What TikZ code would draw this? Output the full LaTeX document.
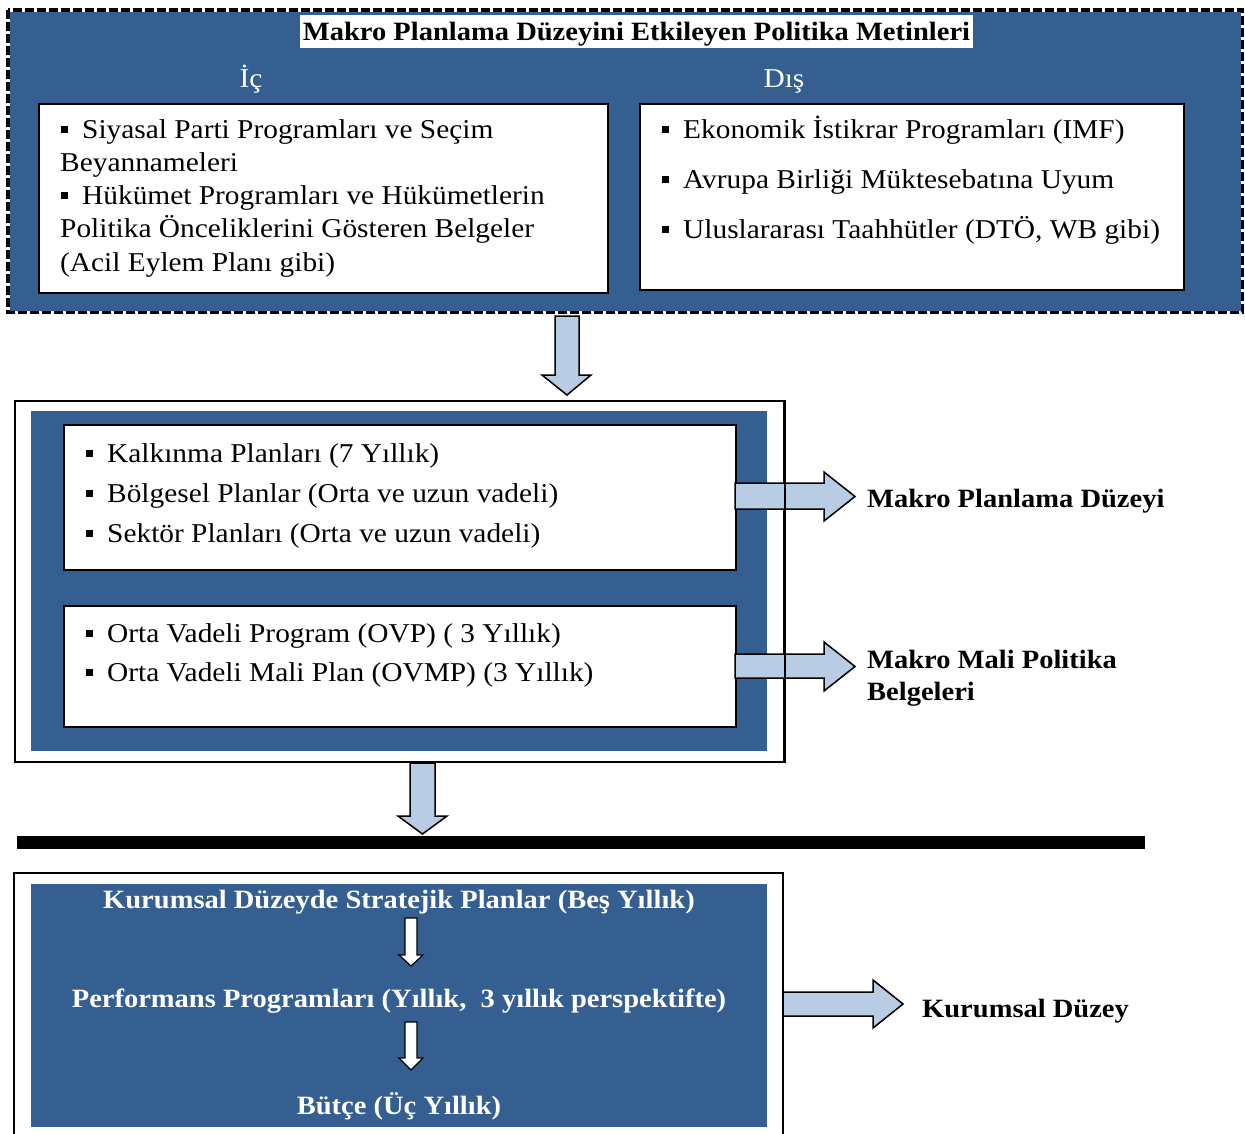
\documentclass[tikz,border=0pt]{standalone}
\usepackage{fontspec}
\setmainfont[FakeStretch=1.08]{Liberation Serif}
\definecolor{dblue}{HTML}{365F91}
\definecolor{lblue}{HTML}{B8CCE4}
\newcommand\regf{\fontsize{27.2}{33}\selectfont}
\newcommand\boldf{\fontsize{26.4}{32}\selectfont\bfseries}
\newcommand\blt{\rule[5pt]{7pt}{7pt}\hspace{14pt}}
\begin{document}
\begin{tikzpicture}[x=1pt,y=-1pt,
  wbox/.style={draw=black, line width=2pt, fill=white, inner sep=0pt, anchor=north west},
  bbg/.style={fill=dblue, draw=none, inner sep=0pt, anchor=north west},
  blk/.style={fill=lblue, draw=black, line width=1.5pt, line join=miter},
  wblk/.style={fill=white, draw=black, line width=1.2pt, line join=miter},
  rtxt/.style={anchor=base west, inner sep=0pt, font=\regf},
  btxt/.style={anchor=base west, inner sep=0pt, font=\boldf},
  wtxt/.style={anchor=base, inner sep=0pt, font=\boldf, text=white}]
\clip (0,0) rectangle (1245,1133);
\fill[white] (0,0) rectangle (1245,1133);

% ---------- top dashed box ----------
\node[bbg, minimum width=1234pt, minimum height=302pt] (top) at (8,10) {};
\draw[white, line width=3.5pt] (top.north west) rectangle (top.south east);
\draw[black, line width=3.5pt, dash pattern=on 9pt off 3pt] (top.north west) rectangle (top.south east);
\node[fill=white, inner sep=0pt, text height=25pt, text depth=8pt,
      minimum width=673pt, anchor=north, font=\boldf] (title) at (636.5,15)
      {Makro Planlama Düzeyini Etkileyen Politika Metinleri};
\node[anchor=base, inner sep=0pt, font=\regf, text=white] (ic) at (251,87) {İç};
\node[anchor=base, inner sep=0pt, font=\regf, text=white] (dis) at (784,87) {Dış};

\node[wbox, minimum width=569pt, minimum height=189pt] (lbox) at (38,103) {};
\node[rtxt] (l1) at (61,138) {\blt Siyasal Parti Programları ve Seçim};
\node[rtxt] (l2) at (60,171) {Beyannameleri};
\node[rtxt] (l3) at (61,204) {\blt Hükümet Programları ve Hükümetlerin};
\node[rtxt] (l4) at (60,237) {Politika Önceliklerini Gösteren Belgeler};
\node[rtxt] (l5) at (60,271) {(Acil Eylem Planı gibi)};

\node[wbox, minimum width=544pt, minimum height=186pt] (rbox) at (639,103) {};
\node[rtxt] (r1) at (662,138) {\blt Ekonomik İstikrar Programları (IMF)};
\node[rtxt] (r2) at (662,188) {\blt Avrupa Birliği Müktesebatına Uyum};
\node[rtxt] (r3) at (662,238) {\blt Uluslararası Taahhütler (DTÖ, WB gibi)};

% arrow 1
\draw[blk] (555,316) -- (579,316) -- (579,375) -- (591,375) -- (567,395)
  -- (542,375) -- (555,375) -- cycle;

% ---------- middle box ----------
\node[wbox, minimum width=769pt, minimum height=361pt] (mid) at (14,400) {};
\node[bbg, minimum width=736pt, minimum height=340pt] (midbg) at (31,411) {};
\node[wbox, minimum width=672pt, minimum height=145pt] (boxa) at (63,424) {};
\node[rtxt] (a1) at (86,462) {\blt Kalkınma Planları (7 Yıllık)};
\node[rtxt] (a2) at (86,502) {\blt Bölgesel Planlar (Orta ve uzun vadeli)};
\node[rtxt] (a3) at (86,542) {\blt Sektör Planları (Orta ve uzun vadeli)};
\node[wbox, minimum width=672pt, minimum height=121pt] (boxb) at (63,605) {};
\node[rtxt] (b1) at (86,642) {\blt Orta Vadeli Program (OVP) ( 3 Yıllık)};
\node[rtxt] (b2) at (86,681) {\blt Orta Vadeli Mali Plan (OVMP) (3 Yıllık)};

\draw[blk] (735,483) -- (824,483) -- (824,472) -- (855,496.5) -- (824,521)
  -- (824,509) -- (735,509) -- cycle;
\draw[blk] (735,654) -- (824,654) -- (824,642) -- (855,666.5) -- (824,691)
  -- (824,678) -- (735,678) -- cycle;
\draw[line width=2pt] (mid.north east) -- (mid.south east);

\node[btxt] (mpd) at (867,507) {Makro Planlama Düzeyi};
\node[btxt] (mmp1) at (867,668) {Makro Mali Politika};
\node[btxt] (mmp2) at (867,700) {Belgeleri};

% arrow 2
\draw[blk] (410,763) -- (435,763) -- (435,816) -- (447,816) -- (422.5,834)
  -- (398,816) -- (410,816) -- cycle;

% thick bar
\fill[black] (17,836) rectangle (1145,849);

% ---------- bottom box ----------
\draw[line width=2pt, fill=white] (14,1145) -- (14,873) -- (783,873) -- (783,1145);
\node[bbg, minimum width=736pt, minimum height=243pt] (botbg) at (31,884) {};
\node[wtxt] (k1) at (399,908) {Kurumsal Düzeyde Stratejik Planlar (Beş Yıllık)};
\node[wtxt] (k2) at (399,1007) {Performans Programları (Yıllık,\ \ 3 yıllık perspektifte)};
\node[wtxt] (k3) at (399,1114) {Bütçe (Üç Yıllık)};
\draw[wblk] (405,918) -- (417,918) -- (417,955) -- (423,955) -- (411,966)
  -- (399,955) -- (405,955) -- cycle;
\draw[wblk] (405,1022) -- (417,1022) -- (417,1058) -- (423,1058) -- (411,1070)
  -- (399,1058) -- (405,1058) -- cycle;

\draw[blk] (783,992) -- (873,992) -- (873,980) -- (903,1004) -- (873,1028)
  -- (873,1016) -- (783,1016) -- cycle;
\node[btxt] (kd) at (922,1017) {Kurumsal Düzey};
\end{tikzpicture}
\end{document}
